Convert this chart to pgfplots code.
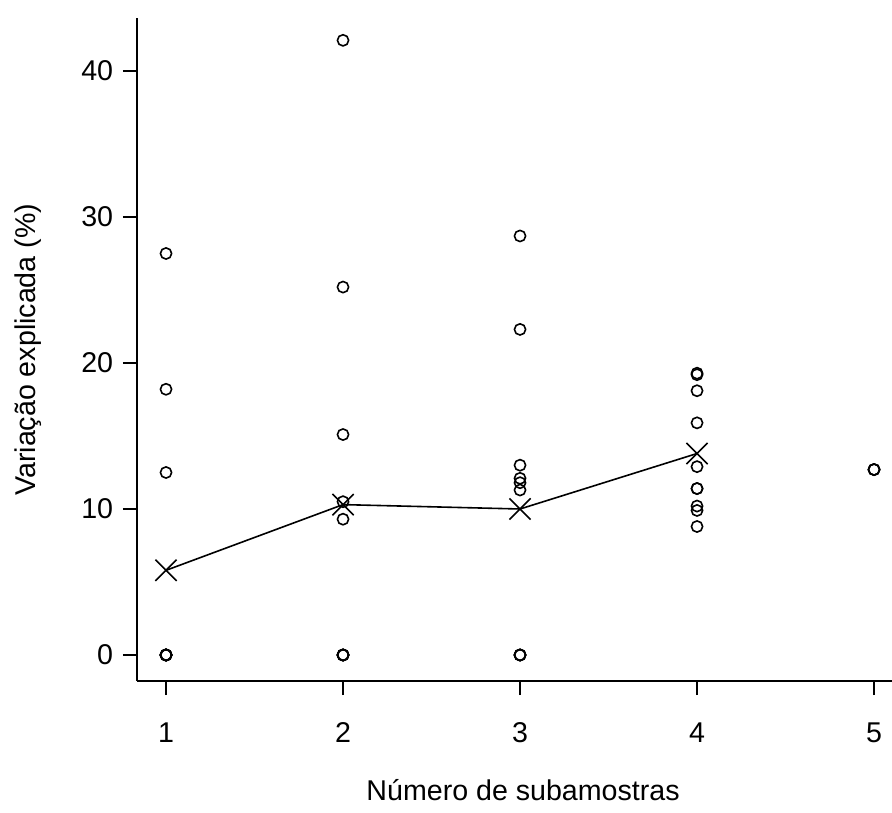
\documentclass[border=0pt]{standalone}
\usepackage{pgfplots}
\pgfplotsset{compat=1.18}
\usepackage{fontspec}
\setmainfont{Liberation Sans}
\begin{document}
\fontsize{14.3}{17}\selectfont
\begin{tikzpicture}
\begin{axis}[
  at={(0,0)}, anchor=south west,
  x=88.5pt, y=7.3pt,
  xmin=0.836, xmax=5.1017, ymin=-1.781, ymax=43.6,
  axis lines*=left,
  axis line style={black, line width=0.8pt},
  xtick={1,2,3,4,5}, ytick={0,10,20,30,40},
  tick align=outside, major tick length=7pt,
  tick style={black, line width=0.8pt},
  /pgf/number format/assume math mode=true,
  xticklabel style={yshift=-9pt},
  xlabel={Número de subamostras},
  ylabel={Variação explicada (\%)},
  xlabel style={at={(axis description cs:0.5113,-0.1645)}, anchor=center},
  ylabel style={at={(axis description cs:-0.1444,0.5)}, anchor=center},
  clip=false,
]
\addplot[only marks, mark=o, mark size=2.8pt, mark options={black, line width=0.8pt}] table {
x y
1 27.5
1 18.2
1 12.5
1 0
1 0
1 0
1 0
1 0
1 0
1 0
2 42.1
2 25.2
2 15.1
2 10.5
2 9.3
2 0
2 0
2 0
2 0
2 0
3 28.7
3 22.3
3 13.0
3 12.1
3 11.8
3 11.3
3 0
3 0
3 0
3 0
4 19.3
4 19.2
4 18.1
4 15.9
4 12.9
4 11.4
4 11.4
4 10.2
4 9.9
4 8.8
5 12.7
5 12.7
5 12.7
};
\addplot[black, line width=0.8pt, mark=x, mark size=7.5pt, mark options={line width=0.8pt}] coordinates {
(1,5.8) (2,10.3) (3,10.0) (4,13.8)
};
\end{axis}
\pgfresetboundingbox
\useasboundingbox (-68.5pt,-65.5pt) rectangle (377.5pt,340.5pt);
\end{tikzpicture}
\end{document}
